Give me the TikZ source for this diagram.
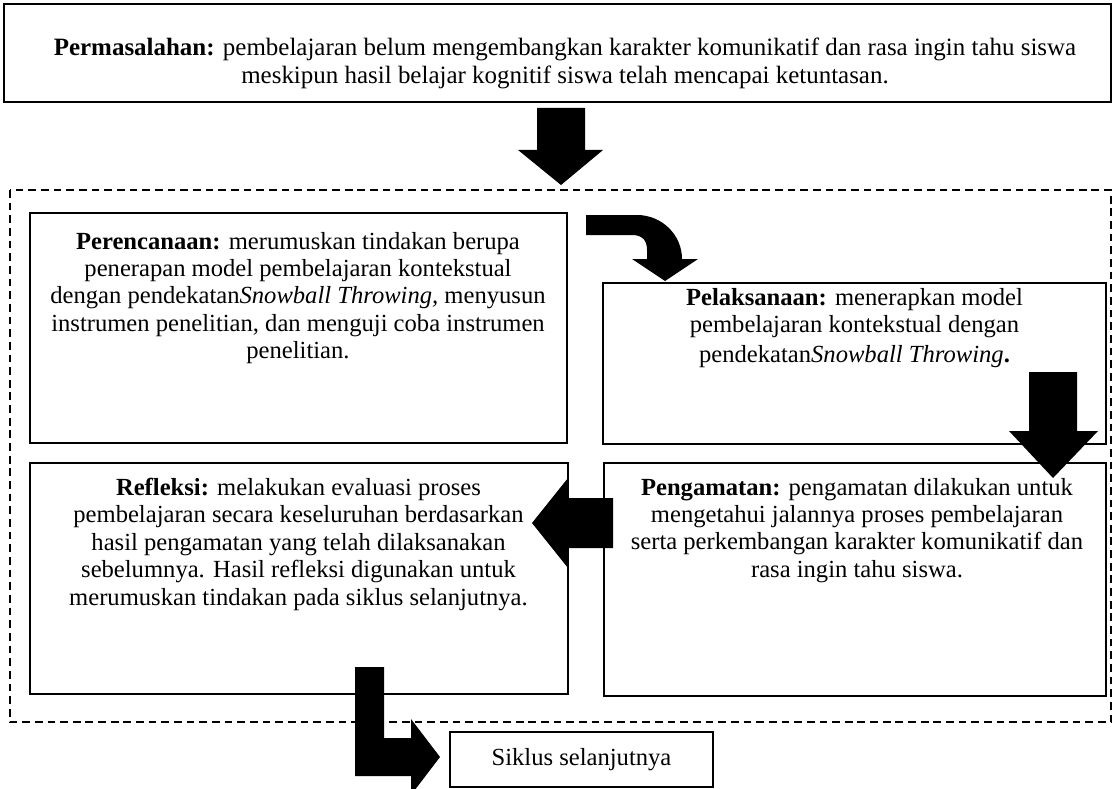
\documentclass[tikz,border=0pt]{standalone}
\usepackage{fontspec}
\setmainfont{Liberation Serif}
\usepackage{tikz}

\begin{document}
\begin{tikzpicture}[x={(0.025cm,0cm)},y={(0cm,-0.025cm)},
  every node/.style={outer sep=0pt, font=\fontsize{17.5}{19.5}\selectfont},
  kotak/.style={draw=black, line width=1pt, inner sep=0pt},
  isi/.style={anchor=north, align=center, inner sep=0pt},
  panah/.style={fill=black, draw=none}]
\useasboundingbox (0,0) rectangle (1115,788);
\draw[line width=0.8pt,dash pattern=on 5.5pt off 3.5pt] (10,190) rectangle (1111,722);
\node[kotak,minimum width=27.675cm,minimum height=2.45cm] (masalah) at (557.5,53) {};
\node[kotak,minimum width=13.425cm,minimum height=5.75cm] (rencana) at (298.5,328) {};
\node[kotak,minimum width=12.575cm,minimum height=4.025cm] (laksana) at (854.5,363.5) {};
\node[kotak,minimum width=13.45cm,minimum height=5.775cm] (refleksi) at (299,578.5) {};
\node[kotak,minimum width=12.55cm,minimum height=5.825cm] (amat) at (855,579.5) {};
\node[kotak,minimum width=6.575cm,minimum height=1.375cm] (siklus) at (581.5,759.5) {};
\node[isi,font=\fontsize{17.75}{19.75}\selectfont] (masalahisi) at (565,38) {\textbf{Permasalahan:} pembelajaran belum mengembangkan karakter komunikatif dan rasa ingin tahu siswa\\meskipun hasil belajar kognitif siswa telah mencapai ketuntasan.};
\node[isi] (rencanaisi) at (298,232) {\textbf{Perencanaan:} merumuskan tindakan berupa\\penerapan model pembelajaran kontekstual\\dengan pendekatan\textit{Snowball Throwing,} menyusun\\instrumen penelitian, dan menguji coba instrumen\\penelitian.};
\node[isi] (laksanaisi) at (854.5,288) {\textbf{Pelaksanaan:} menerapkan model\\pembelajaran kontekstual dengan\\[2pt]pendekatan\textit{Snowball Throwing}\textbf{.}};
\node[isi] (refleksiisi) at (298.5,478) {\textbf{Refleksi:} melakukan evaluasi proses\\pembelajaran secara keseluruhan berdasarkan\\hasil pengamatan yang telah dilaksanakan\\sebelumnya. Hasil refleksi digunakan untuk\\merumuskan tindakan pada siklus selanjutnya.};
\node[isi] (amatisi) at (857,478) {\textbf{Pengamatan:} pengamatan dilakukan untuk\\mengetahui jalannya proses pembelajaran\\serta perkembangan karakter komunikatif dan\\rasa ingin tahu siswa.};
\node (siklusisi) at (siklus.center) {Siklus selanjutnya};
\fill[panah] (537,108) -- (585,108) -- (585,150) -- (603,150) -- (561,185) -- (518,150) -- (537,150) -- cycle;
\fill[panah] (586,215) -- (637,215) .. controls (662,215) and (682,235) .. (682,259) -- (698,259) -- (665,281) -- (632,259) -- (647,259) -- (647,250) .. controls (647,240) and (642,235) .. (632,235) -- (586,235) -- cycle;
\fill[panah] (1029,372) -- (1077,372) -- (1077,431) -- (1098,431) -- (1053,478) -- (1009,431) -- (1029,431) -- cycle;
\fill[panah] (613,498) -- (613,548) -- (568,548) -- (568,568) -- (532,523) -- (568,478) -- (568,498) -- cycle;
\fill[panah] (355,667) -- (384,667) -- (384,738) -- (411,738) -- (411,719) -- (440,757) -- (411,795) -- (411,776) -- (355,776) -- cycle;
\end{tikzpicture}
\end{document}
